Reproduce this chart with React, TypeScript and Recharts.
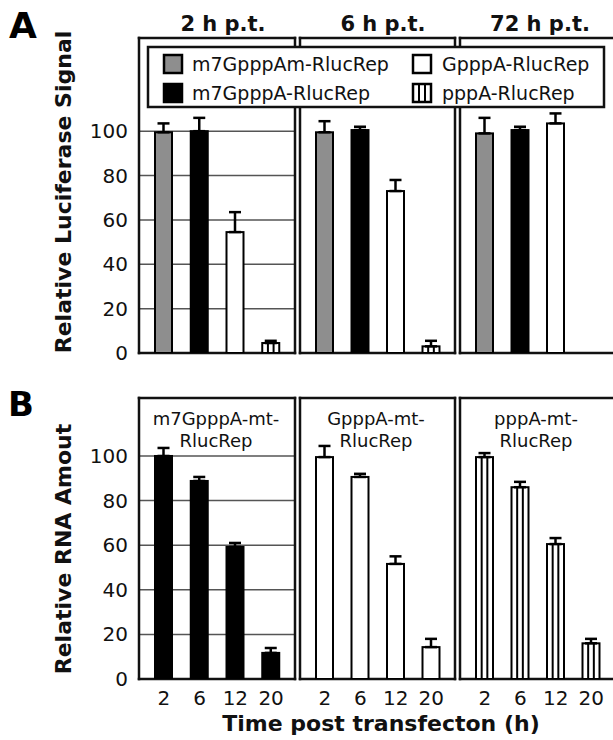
import React from 'react';
import { BarChart, Bar, XAxis, YAxis, CartesianGrid, ErrorBar } from 'recharts';

// ---------- data ----------
const lucConstructs = ['m7GpppAm-RlucRep', 'm7GpppA-RlucRep', 'GpppA-RlucRep', 'pppA-RlucRep'];
const lucKinds = ['gray', 'black', 'white', 'striped'];
const lucTimes = ['2 h p.t.', '6 h p.t.', '72 h p.t.'];
const luc2h = [99.5, 100, 54.5, 4.5];
const luc2hErr = [4, 6, 9, 1];
const luc6h = [99.5, 100.5, 73, 3];
const luc6hErr = [5, 1.5, 5, 2.5];
const luc72h = [99, 100.5, 103.5, null];
const luc72hErr = [7, 1.5, 4.5, null];

const rnaTimes = ['2', '6', '12', '20'];
const rnaM7 = [100, 88.8, 59.2, 11.7];
const rnaM7Err = [3.6, 1.8, 1.8, 2.2];
const rnaGppp = [99.5, 90.6, 51.6, 14.3];
const rnaGpppErr = [5, 1.4, 3.4, 3.7];
const rnaPpp = [99.5, 86, 60.5, 16];
const rnaPppErr = [1.8, 2.4, 2.7, 2];
const rnaTitles = [
  ['m7GpppA-mt-', 'RlucRep'],
  ['GpppA-mt-', 'RlucRep'],
  ['pppA-mt-', 'RlucRep'],
];
const yTicks = [0, 20, 40, 60, 80, 100];

// ---------- styling ----------
const FONT = '"DejaVu Sans", Verdana, sans-serif';
const INK = '#111';
const GRAY = '#8e8e8e';

const buildLuc = (vals: (number | null)[], errs: (number | null)[]) =>
  lucConstructs.map((name, i) => ({
    name,
    kind: lucKinds[i],
    value: vals[i],
    err: errs[i] == null ? null : [0, errs[i]],
  }));

const buildRna = (vals: number[], errs: number[], kind: string) =>
  rnaTimes.map((name, i) => ({ name, kind, value: vals[i], err: [0, errs[i]] }));

const renderBar = (p: any) => {
  const { x, y, width, height, payload } = p;
  if (height == null || !isFinite(height) || height <= 0) return <g />;
  const kind = payload?.kind;
  const fill = kind === 'gray' ? GRAY : kind === 'black' ? '#000' : '#fff';
  return (
    <g>
      <rect x={x} y={y} width={width} height={height} fill={fill} stroke="#000" strokeWidth={2} />
      {kind === 'striped' && (
        <>
          <line x1={x + width / 3} x2={x + width / 3} y1={y} y2={y + height} stroke="#000" strokeWidth={2} />
          <line x1={x + (2 * width) / 3} x2={x + (2 * width) / 3} y1={y} y2={y + height} stroke="#000" strokeWidth={2} />
        </>
      )}
    </g>
  );
};

const frameH = (args: any) => {
  const o = args.offset;
  return [o.top, o.top + o.height];
};
const frameV = (args: any) => {
  const o = args.offset;
  return [o.left, o.left + o.width];
};

type PanelProps = {
  plotLeft: number;
  plotRight: number;
  plotTop: number;
  plotBottom: number;
  data: any[];
  yMax: number;
  showY: boolean;
  showX: boolean;
};

function Panel({ plotLeft, plotRight, plotTop, plotBottom, data, yMax, showY, showX }: PanelProps) {
  const padL = 2;
  const padR = 3;
  const padT = 10;
  const yAxisW = showY ? plotLeft : 0;
  const chartLeft = showY ? 0 : plotLeft - padL;
  const marginLeft = showY ? 0 : padL;
  const xAxisH = showX ? 32 : 0;
  const padB = showX ? 4 : 12;
  const width = marginLeft + yAxisW + (plotRight - plotLeft) + padR;
  const height = padT + (plotBottom - plotTop) + xAxisH + padB;
  const tickStyle = { fontSize: 20, fill: INK, fontFamily: FONT };
  return (
    <div style={{ position: 'absolute', left: chartLeft, top: plotTop - padT }}>
      <BarChart
        width={width}
        height={height}
        data={data}
        margin={{ top: padT, right: padR, bottom: padB, left: marginLeft }}
      >
        <CartesianGrid vertical={false} stroke="#555" strokeWidth={1.5} />
        <CartesianGrid
          horizontalCoordinatesGenerator={frameH}
          verticalCoordinatesGenerator={frameV}
          stroke={INK}
          strokeWidth={2.5}
          strokeLinecap="square"
        />
        <XAxis
          dataKey="name"
          height={xAxisH}
          padding={{ left: 7, right: 6 }}
          tick={showX ? tickStyle : false}
          tickLine={false}
          tickSize={0}
          tickMargin={12}
          interval={0}
          axisLine={false}
        />
        <YAxis
          type="number"
          domain={[0, yMax]}
          ticks={yTicks}
          interval={0}
          width={yAxisW}
          tick={showY ? tickStyle : false}
          tickLine={false}
          tickSize={0}
          tickMargin={11}
          axisLine={false}
          allowDataOverflow
        />
        <Bar dataKey="value" barSize={17} isAnimationActive={false} shape={renderBar}>
          <ErrorBar dataKey="err" width={6} stroke="#000" strokeWidth={2.5} direction="y" />
        </Bar>
      </BarChart>
    </div>
  );
}

const colsX = [
  [139, 295],
  [300, 455],
  [460, 615],
];
const TOP_A = 38;
const BOT_A = 353;
const TOP_B = 398;
const BOT_B = 679;

const lucSets = [buildLuc(luc2h, luc2hErr), buildLuc(luc6h, luc6hErr), buildLuc(luc72h, luc72hErr)];
const rnaSets = [
  buildRna(rnaM7, rnaM7Err, 'black'),
  buildRna(rnaGppp, rnaGpppErr, 'white'),
  buildRna(rnaPpp, rnaPppErr, 'striped'),
];

const titleX = [223, 383, 540];
const innerTitleX = [216, 376, 536];

const Swatch = ({ x, y, kind }: { x: number; y: number; kind: string }) => {
  const s = 18;
  const fill = kind === 'gray' ? GRAY : kind === 'black' ? '#000' : '#fff';
  return (
    <g>
      <rect x={x} y={y - s / 2} width={s} height={s} fill={fill} stroke="#000" strokeWidth={2.5} />
      {kind === 'striped' && (
        <>
          <line x1={x + s / 3} x2={x + s / 3} y1={y - s / 2} y2={y + s / 2} stroke="#000" strokeWidth={2} />
          <line x1={x + (2 * s) / 3} x2={x + (2 * s) / 3} y1={y - s / 2} y2={y + s / 2} stroke="#000" strokeWidth={2} />
        </>
      )}
    </g>
  );
};

export default function App() {
  const legendCols = [
    { sx: 164, tx: 192 },
    { sx: 413, tx: 442 },
  ];
  const legendRows = [64, 93];
  const legendItems = [
    { idx: 0, row: 0, col: 0 },
    { idx: 2, row: 0, col: 1 },
    { idx: 1, row: 1, col: 0 },
    { idx: 3, row: 1, col: 1 },
  ];
  return (
    <div
      style={{
        position: 'absolute',
        left: 0,
        top: 0,
        width: 613,
        height: 740,
        overflow: 'hidden',
        background: '#fff',
      }}
    >
      {lucSets.map((d, i) => (
        <Panel
          key={'a' + i}
          plotLeft={colsX[i][0]}
          plotRight={colsX[i][1]}
          plotTop={TOP_A}
          plotBottom={BOT_A}
          data={d}
          yMax={142}
          showY={i === 0}
          showX={false}
        />
      ))}
      {rnaSets.map((d, i) => (
        <Panel
          key={'b' + i}
          plotLeft={colsX[i][0]}
          plotRight={colsX[i][1]}
          plotTop={TOP_B}
          plotBottom={BOT_B}
          data={d}
          yMax={126}
          showY={i === 0}
          showX={true}
        />
      ))}
      <svg
        width={613}
        height={740}
        style={{ position: 'absolute', left: 0, top: 0, pointerEvents: 'none' }}
        fontFamily={FONT}
      >
        <text x={9} y={38} fontSize={36} fontWeight="bold" fill="#000">A</text>
        <text x={8} y={416} fontSize={34} fontWeight="bold" fill="#000">B</text>
        {lucTimes.map((t, i) => (
          <text key={t} x={titleX[i]} y={31} fontSize={21} fontWeight="bold" fill={INK} textAnchor="middle">
            {t}
          </text>
        ))}
        <rect x={148} y={47} width={456} height={60} fill="#fff" stroke={INK} strokeWidth={2.5} />
        {legendItems.map((it) => (
          <g key={it.idx}>
            <Swatch x={legendCols[it.col].sx} y={legendRows[it.row]} kind={lucKinds[it.idx]} />
            <text x={legendCols[it.col].tx} y={legendRows[it.row] + 7} fontSize={19} fill={INK}>
              {lucConstructs[it.idx]}
            </text>
          </g>
        ))}
        {rnaTitles.map((lines, i) => (
          <g key={'t' + i}>
            <text x={innerTitleX[i]} y={425} fontSize={18} fill={INK} textAnchor="middle">{lines[0]}</text>
            <text x={innerTitleX[i]} y={447} fontSize={18} fill={INK} textAnchor="middle">{lines[1]}</text>
          </g>
        ))}
        <text
          transform="translate(71,192) rotate(-90)"
          fontSize={22}
          fontWeight="bold"
          fill={INK}
          textAnchor="middle"
        >
          Relative Luciferase Signal
        </text>
        <text
          transform="translate(71,549) rotate(-90)"
          fontSize={22}
          fontWeight="bold"
          fill={INK}
          textAnchor="middle"
        >
          Relative RNA Amout
        </text>
        <text x={381} y={731} fontSize={22} fontWeight="bold" fill={INK} textAnchor="middle">
          Time post transfecton (h)
        </text>
      </svg>
    </div>
  );
}
